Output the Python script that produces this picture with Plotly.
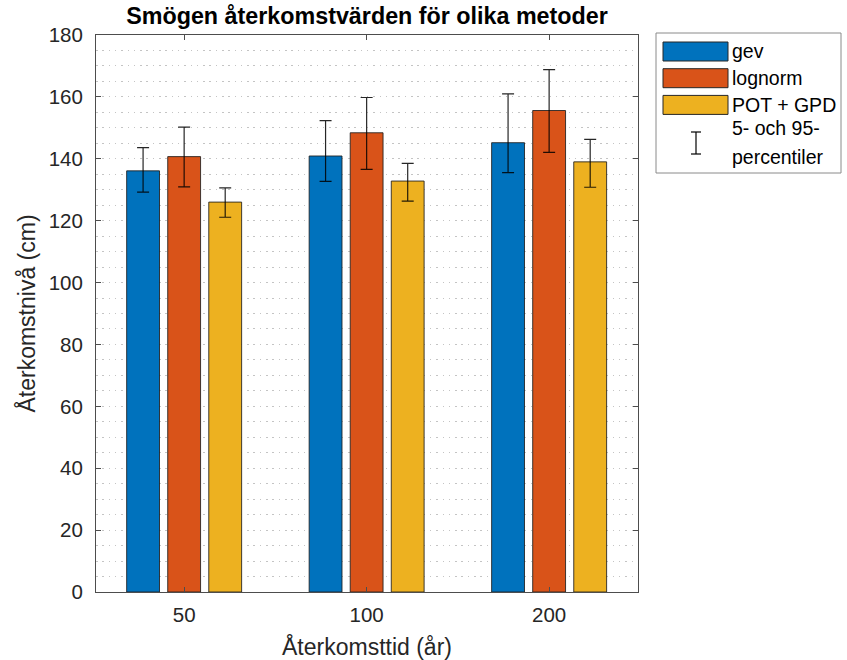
import plotly.graph_objects as go

# Return periods (years) and estimated return levels (cm)
periods = ["50", "100", "200"]
methods = ["gev", "lognorm", "POT + GPD"]
colors = ["#0072BD", "#D95319", "#EDB120"]

levels = {
    "gev":       [136.1, 140.9, 145.2],
    "lognorm":   [140.7, 148.4, 155.6],
    "POT + GPD": [126.0, 132.8, 139.0],
}
p95 = {
    "gev":       [143.6, 152.3, 161.0],
    "lognorm":   [150.2, 159.8, 168.8],
    "POT + GPD": [130.6, 138.5, 146.3],
}
p5 = {
    "gev":       [129.2, 132.7, 135.5],
    "lognorm":   [130.9, 136.6, 142.1],
    "POT + GPD": [121.1, 126.3, 130.8],
}
percentile_lines = ["5- och 95-", "percentiler"]

FONT = "Liberation Sans, Arial, sans-serif"
TXT = "#262626"
AXC = "#4d4d4d"
GRID = "#c4c4c4"

W, H = 847, 660
ML, MR, MT, MB = 96, 209, 35, 68
PW, PH = W - ML - MR, H - MT - MB


def px(x):
    return (x - ML) / PW


def py(y):
    return (H - MB - y) / PH


fig = go.Figure()
idx = list(range(len(periods)))
for m, c in zip(methods, colors):
    fig.add_trace(go.Bar(
        x=idx, y=levels[m], name=m,
        marker=dict(color=c, line=dict(color="rgba(30,30,30,0.85)", width=1)),
        error_y=dict(
            type="data", symmetric=False,
            array=[hi - v for hi, v in zip(p95[m], levels[m])],
            arrayminus=[v - lo for lo, v in zip(p5[m], levels[m])],
            color="rgba(0,0,0,0.85)", thickness=1.2, width=6,
        ),
        showlegend=False,
    ))

# Legend panel drawn with shapes and annotations
LEG_FONT = dict(size=19.5, color="#000", family=FONT)
shapes = [dict(type="rect", xref="paper", yref="paper",
               x0=px(656), x1=px(841), y0=py(173), y1=py(33),
               line=dict(color="#8a8a8a", width=1), fillcolor="white", layer="above")]
annotations = []
for i, (m, c) in enumerate(zip(methods, colors)):
    top = 42 + i * 26.7
    shapes.append(dict(type="rect", xref="paper", yref="paper",
                       x0=px(663), x1=px(728), y0=py(top + 19), y1=py(top),
                       line=dict(color="#262626", width=1), fillcolor=c, layer="above"))
    annotations.append(dict(xref="paper", yref="paper", x=px(730), y=py(top + 9.5),
                            text=m, showarrow=False, xanchor="left", yanchor="middle",
                            font=LEG_FONT))
# error-bar glyph
for seg in [(696, 132, 696, 154), (691, 132, 701, 132), (691, 154, 701, 154)]:
    shapes.append(dict(type="line", xref="paper", yref="paper",
                       x0=px(seg[0]), y0=py(seg[1]), x1=px(seg[2]), y1=py(seg[3]),
                       line=dict(color="#000", width=1.2), layer="above"))
for k, line in enumerate(percentile_lines):
    annotations.append(dict(xref="paper", yref="paper", x=px(730), y=py(128 + 29 * k),
                            text=line, showarrow=False, xanchor="left",
                            yanchor="middle", font=LEG_FONT))

fig.update_layout(
    width=W, height=H,
    margin=dict(l=ML, r=MR, t=MT, b=MB, pad=0, autoexpand=False),
    paper_bgcolor="white", plot_bgcolor="white",
    barmode="group", bargap=0.325, bargroupgap=0.2,
    font=dict(family=FONT, size=20, color=TXT),
    title=dict(text="<b>Smögen återkomstvärden för olika metoder</b>",
               xref="paper", x=0.5, xanchor="center",
               yref="container", y=1 - 16 / H, yanchor="middle",
               font=dict(size=23.3, color="#000", family=FONT)),
    shapes=shapes, annotations=annotations,
)
fig.update_xaxes(
    range=[-0.483, 2.487], tickvals=idx, ticktext=periods, automargin=False,
    showline=True, linecolor=AXC, linewidth=1, mirror="ticks",
    ticks="inside", ticklen=5, tickcolor=AXC,
    showgrid=False, zeroline=False, ticklabelstandoff=4,
    tickfont=dict(size=20.5, color=TXT),
    title=dict(text="Återkomsttid (år)", font=dict(size=23, color=TXT), standoff=15),
)
fig.update_yaxes(
    range=[0, 180], tickvals=list(range(0, 181, 20)), automargin=False,
    showline=True, linecolor=AXC, linewidth=1, mirror="ticks",
    ticks="inside", ticklen=5, tickcolor=AXC,
    showgrid=True, gridcolor=GRID, griddash="1.5px,4.8px", gridwidth=1,
    minor=dict(dtick=5, showgrid=True, gridcolor=GRID, griddash="1.5px,4.8px", gridwidth=1),
    zeroline=False, ticklabelstandoff=8,
    tickfont=dict(size=20.5, color=TXT),
    title=dict(text="Återkomstnivå (cm)", font=dict(size=23, color=TXT), standoff=6),
)

fig.write_html("out.html")
